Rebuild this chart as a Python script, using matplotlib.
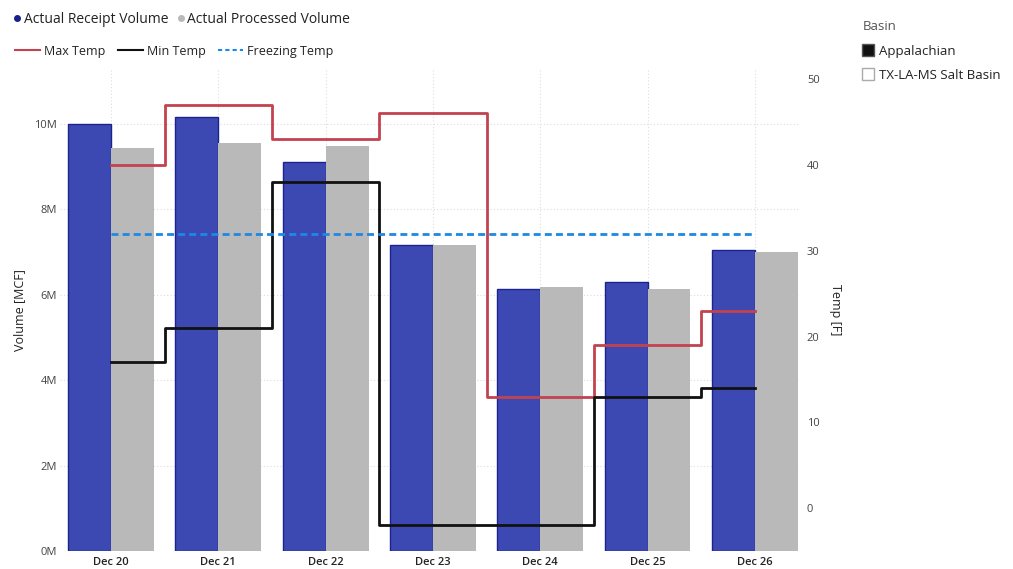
import matplotlib.pyplot as plt
import numpy as np
from matplotlib.lines import Line2D
from matplotlib.ticker import FuncFormatter

plt.rcParams['font.family'] = ['Open Sans', 'DejaVu Sans']

# data
days = ['Dec 20', 'Dec 21', 'Dec 22', 'Dec 23', 'Dec 24', 'Dec 25', 'Dec 26']
receipt = [10.0, 10.16, 9.12, 7.17, 6.15, 6.31, 7.06]    # million MCF
processed = [9.45, 9.56, 9.49, 7.17, 6.19, 6.15, 7.0]   # million MCF
max_temp = [40, 47, 43, 46, 13, 19, 23]
min_temp = [17, 21, 38, -2, -2, 13, 14]
freezing = [32] * len(days)

x = np.arange(len(days))
w = 0.4

fig = plt.figure(figsize=(10.13, 5.69), dpi=100)
ax = fig.add_axes([0.0592, 0.0308, 0.7305, 0.8497])
ax2 = ax.twinx()

# bars
ax.bar(x - w / 2, receipt, w, color='#3d49b2', edgecolor='#1a2390', linewidth=1.0, zorder=2)
ax.bar(x + w / 2, processed, w, color='#b9b9b9', edgecolor='none', zorder=2)
ax.set_ylim(0, 11.31)
ax.set_xlim(-0.475, 6.42)
ax.set_yticks([0, 2, 4, 6, 8, 10])
ax.yaxis.set_major_formatter(FuncFormatter(lambda v, p: '%dM' % v))
ax.set_xticks(x)
ax.set_xticklabels(days, fontsize=8, color='#222222', fontweight='semibold')
ax.tick_params(axis='y', labelsize=8, colors='#444444', length=0, pad=2)
ax.tick_params(axis='x', length=0, pad=4)
ax.set_axisbelow(True)
ax.grid(True, linestyle=(0, (1, 2)), color='#dddddd', linewidth=0.8)
ax.set_ylabel('Volume [MCF]', fontsize=9, color='#222222', labelpad=6)

# temperatures
ax2.plot(x, max_temp, drawstyle='steps-mid', color='#c2434f', linewidth=2)
ax2.plot(x, min_temp, drawstyle='steps-mid', color='#111111', linewidth=2)
ax2.plot(x, freezing, color='#1e88e5', linewidth=2, linestyle=(0, (2.5, 1.5)))
ax2.set_ylim(-5.03, 51.3)
ax2.set_yticks([0, 10, 20, 30, 40, 50])
ax2.tick_params(axis='y', labelsize=8, colors='#444444', length=0, pad=5)
ax2.set_ylabel('Temp [F]', fontsize=9, color='#222222', rotation=270, labelpad=16)

for a in (ax, ax2):
    for s in a.spines.values():
        s.set_visible(False)

# legends
h1 = [Line2D([], [], marker='o', linestyle='none', color='#1a1f8c', markersize=4),
      Line2D([], [], marker='o', linestyle='none', color='#b9b9b9', markersize=4)]
fig.legend(h1, ['Actual Receipt Volume', 'Actual Processed Volume'], loc='center left',
           bbox_to_anchor=(0.002, 0.966), ncol=2, frameon=False, fontsize=10,
           handlelength=0.4, handletextpad=0.25, columnspacing=0.7, labelcolor='#222222')
h2 = [Line2D([], [], color='#c2434f', linewidth=1.5),
      Line2D([], [], color='#111111', linewidth=1.5),
      Line2D([], [], color='#1e88e5', linewidth=1.5, linestyle=(0, (2, 1.5)))]
fig.legend(h2, ['Max Temp', 'Min Temp', 'Freezing Temp'], loc='center left',
           bbox_to_anchor=(0.004, 0.910), ncol=3, frameon=False, fontsize=9,
           handlelength=2.0, handletextpad=0.3, columnspacing=1.0, labelcolor='#222222')
h3 = [Line2D([], [], marker='s', linestyle='none', markerfacecolor='#111111',
             markeredgecolor='#555555', markersize=8),
      Line2D([], [], marker='s', linestyle='none', markerfacecolor='white',
             markeredgecolor='#aaaaaa', markersize=8)]
leg = fig.legend(h3, ['Appalachian', 'TX-LA-MS Salt Basin'], loc='upper left',
                 bbox_to_anchor=(0.840, 0.985), frameon=False, fontsize=9.5, title='Basin',
                 title_fontsize=9.5, handlelength=0.8, handletextpad=0.4, labelspacing=0.85,
                 alignment='left', labelcolor='#222222')
leg.get_title().set_color('#555555')

fig.savefig('out.png', dpi=100)
